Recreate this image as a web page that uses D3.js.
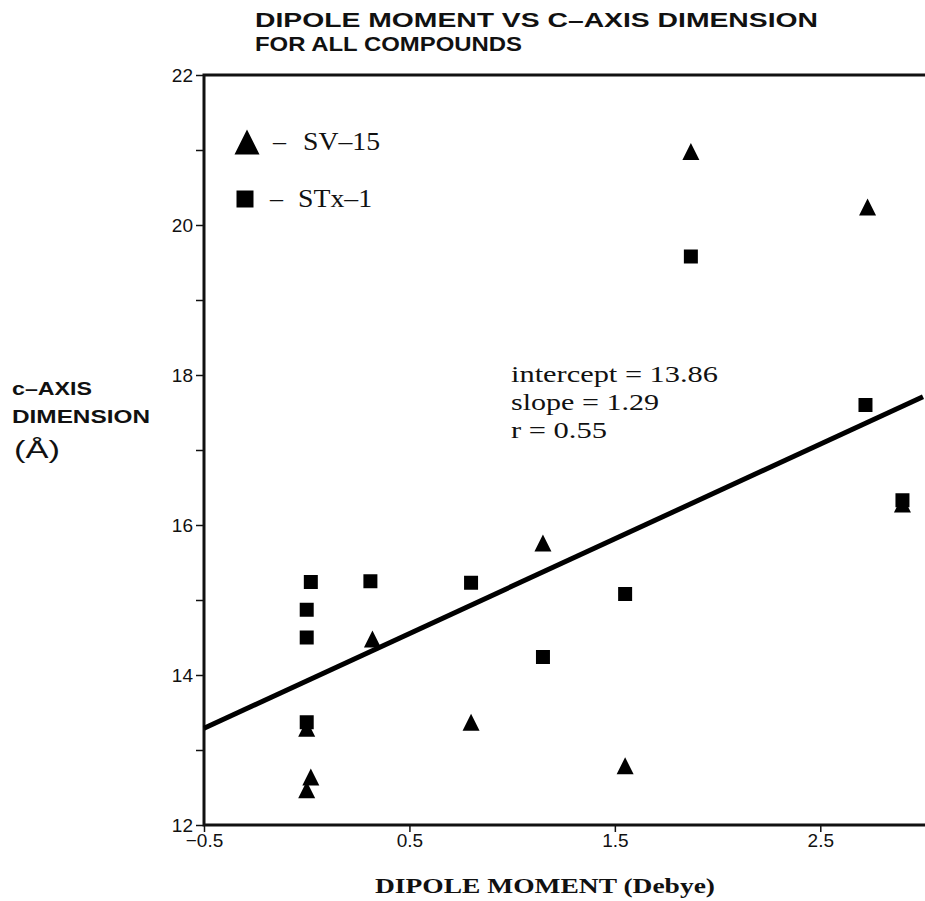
<!DOCTYPE html>
<html>
<head>
<meta charset="utf-8">
<script src="https://cdn.jsdelivr.net/npm/d3@7"></script>
<style>
  body { margin: 0; background: #fff; }
  svg { display: block; }
</style>
</head>
<body>
<svg id="chart" width="925" height="901"></svg>
<script>
// values
const sv15 = [
  {x: 1.87, y: 20.98},
  {x: 2.73, y: 20.24},
  {x: 1.15, y: 15.76},
  {x: 0.32, y: 14.48},
  {x: 0.80, y: 13.37},
  {x: 1.55, y: 12.79},
  {x: 0.00, y: 13.29},
  {x: 0.02, y: 12.64},
  {x: 0.00, y: 12.47},
  {x: 2.90, y: 16.28}
];
const stx1 = [
  {x: 1.87, y: 19.58},
  {x: 2.72, y: 17.60},
  {x: 2.90, y: 16.33},
  {x: 0.02, y: 15.24},
  {x: 0.31, y: 15.25},
  {x: 0.80, y: 15.23},
  {x: 0.00, y: 14.87},
  {x: 0.00, y: 14.50},
  {x: 1.15, y: 14.24},
  {x: 1.55, y: 15.08},
  {x: 0.00, y: 13.37}
];
const fitLine = [{x: -0.5, y: 13.29}, {x: 3.0, y: 17.71}];
const yTicks = [12, 13, 14, 15, 16, 17, 18, 19, 20, 21, 22];
const xTicks = [-0.5, 0.5, 1.5, 2.5];
const statLines = ['intercept = 13.86', 'slope = 1.29', 'r = 0.55'];
const statWidths = [207, 148, 96];
const legendItems = [{label: 'SV\u201315', shape: 'tri'}, {label: 'STx\u20131', shape: 'sq'}];

const svg = d3.select('#chart');
const margin = {top: 75, left: 204};
const x = d3.scaleLinear().domain([-0.5, 3.0]).range([204, 923]);
const y = d3.scaleLinear().domain([12, 22]).range([825, 75]);

const triangle = {
  draw(ctx, size) {
    const s = Math.sqrt(size);
    ctx.moveTo(0, -s / 2);
    ctx.lineTo(s / 2, s / 2);
    ctx.lineTo(-s / 2, s / 2);
    ctx.closePath();
  }
};

svg.append('rect').attr('width', 925).attr('height', 901).attr('fill', '#fff');

// title
const title = svg.append('text')
  .attr('font-family', 'Liberation Sans, Arial, sans-serif')
  .attr('font-weight', 'bold')
  .attr('font-size', 20)
  .attr('fill', '#111');
title.append('tspan').attr('x', 255).attr('y', 27)
  .attr('textLength', 563).attr('lengthAdjust', 'spacingAndGlyphs')
  .text('DIPOLE MOMENT  VS  C\u2013AXIS DIMENSION');
title.append('tspan').attr('x', 255).attr('y', 51)
  .attr('textLength', 267).attr('lengthAdjust', 'spacingAndGlyphs')
  .text('FOR ALL COMPOUNDS');

// y axis
const yAxis = svg.append('g')
  .attr('transform', 'translate(' + margin.left + ',0)')
  .call(d3.axisLeft(y).tickValues(yTicks).tickSize(8).tickPadding(3)
    .tickFormat(d => d % 2 === 0 ? d : ''));
yAxis.select('.domain').remove();
yAxis.selectAll('line').attr('stroke', '#111').attr('stroke-width', 1.5);
yAxis.selectAll('text')
  .attr('font-family', 'Liberation Sans, Arial, sans-serif')
  .attr('font-size', 19).attr('fill', '#111');

// x axis
const xAxis = svg.append('g')
  .attr('transform', 'translate(0,825)')
  .call(d3.axisBottom(x).tickValues(xTicks).tickSize(7).tickPadding(2)
    .tickFormat(d => d3.format('.1f')(d).replace('-', '\u2212')));
xAxis.select('.domain').remove();
xAxis.selectAll('line').attr('stroke', '#111').attr('stroke-width', 1.5);
xAxis.selectAll('text')
  .attr('font-family', 'Liberation Sans, Arial, sans-serif')
  .attr('font-size', 19).attr('fill', '#111');

// frame
svg.append('path')
  .attr('d', 'M925,' + y(22) + 'H' + x(-0.5) + 'V' + y(12) + 'H925')
  .attr('fill', 'none')
  .attr('stroke', '#111')
  .attr('stroke-width', 3);

// axis titles
svg.append('text')
  .attr('x', 375).attr('y', 893)
  .attr('textLength', 340).attr('lengthAdjust', 'spacingAndGlyphs')
  .attr('font-family', 'Liberation Serif, Times New Roman, serif')
  .attr('font-weight', 'bold')
  .attr('font-size', 21)
  .attr('fill', '#111')
  .text('DIPOLE MOMENT (Debye)');

const yTitle = svg.append('text')
  .attr('font-family', 'Liberation Sans, Arial, sans-serif')
  .attr('font-weight', 'bold')
  .attr('font-size', 18)
  .attr('fill', '#111');
yTitle.append('tspan').attr('x', 12).attr('y', 395)
  .attr('textLength', 80).attr('lengthAdjust', 'spacingAndGlyphs')
  .text('c\u2013AXIS');
yTitle.append('tspan').attr('x', 12).attr('y', 423)
  .attr('textLength', 138).attr('lengthAdjust', 'spacingAndGlyphs')
  .text('DIMENSION');
yTitle.append('tspan').attr('x', 14).attr('y', 458).attr('font-size', 23)
  .attr('font-weight', 'normal')
  .attr('textLength', 46).attr('lengthAdjust', 'spacingAndGlyphs')
  .text('(\u00C5)');

// regression line
const line = d3.line().x(d => x(d.x)).y(d => y(d.y));
svg.append('path')
  .datum(fitLine)
  .attr('d', line)
  .attr('fill', 'none')
  .attr('stroke', '#000')
  .attr('stroke-width', 5);

// points
svg.append('g').selectAll('path')
  .data(stx1)
  .join('path')
  .attr('transform', d => 'translate(' + x(d.x) + ',' + y(d.y) + ')')
  .attr('d', d3.symbol().type(d3.symbolSquare).size(14 * 14))
  .attr('fill', '#000');

svg.append('g').selectAll('path')
  .data(sv15)
  .join('path')
  .attr('transform', d => 'translate(' + x(d.x) + ',' + y(d.y) + ')')
  .attr('d', d3.symbol().type(triangle).size(17 * 17))
  .attr('fill', '#000');

// stats annotation
svg.append('g').selectAll('text')
  .data(statLines)
  .join('text')
  .attr('x', 511)
  .attr('y', (d, i) => 382 + i * 28)
  .attr('textLength', (d, i) => statWidths[i])
  .attr('lengthAdjust', 'spacingAndGlyphs')
  .attr('font-family', 'Liberation Serif, Times New Roman, serif')
  .attr('font-size', 24)
  .attr('fill', '#111')
  .text(d => d);

// legend
const legend = svg.append('g').selectAll('g')
  .data(legendItems)
  .join('g')
  .attr('transform', (d, i) => 'translate(247,' + (142 + i * 57) + ')');
legend.append('path')
  .attr('d', d => d.shape === 'tri'
    ? d3.symbol().type(triangle).size(25 * 25)()
    : d3.symbol().type(d3.symbolSquare).size(17 * 17)())
  .attr('transform', d => d.shape === 'tri' ? null : 'translate(-2,0)')
  .attr('fill', '#000');
legend.append('text')
  .attr('x', d => d.shape === 'tri' ? 26 : 23)
  .attr('y', 8)
  .attr('font-family', 'Liberation Serif, Times New Roman, serif')
  .attr('font-size', 26)
  .attr('fill', '#111')
  .text('\u2013');
legend.append('text')
  .attr('x', d => d.shape === 'tri' ? 56 : 51)
  .attr('y', 8)
  .attr('textLength', d => d.shape === 'tri' ? 77 : 74)
  .attr('lengthAdjust', 'spacingAndGlyphs')
  .attr('font-family', 'Liberation Serif, Times New Roman, serif')
  .attr('font-size', 26)
  .attr('fill', '#111')
  .text(d => d.label);
</script>
</body>
</html>
